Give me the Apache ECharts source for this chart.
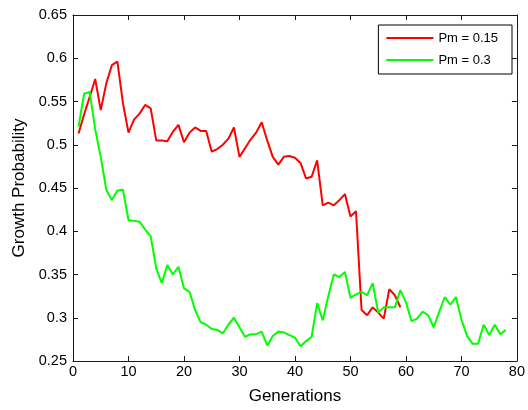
<!DOCTYPE html>
<html>
<head>
<meta charset="utf-8">
<script src="https://cdn.jsdelivr.net/npm/echarts@6/dist/echarts.min.js"></script>
<style>
  html, body { margin: 0; padding: 0; background: #fff; }
  #chart { width: 528px; height: 410px; }
</style>
</head>
<body>
<div id="chart"></div>
<script>
// values, one per generation starting at 1
const redLabel = 'Pm = 0.15';
const greenLabel = 'Pm = 0.3';
const redValues = [
  0.513, 0.535, 0.555, 0.576, 0.540, 0.571, 0.592, 0.596, 0.548, 0.514,
  0.529, 0.536, 0.546, 0.542, 0.505, 0.505, 0.504, 0.515, 0.523, 0.503,
  0.514, 0.520, 0.516, 0.516, 0.492, 0.495, 0.500, 0.507, 0.520, 0.486,
  0.496, 0.506, 0.514, 0.526, 0.505, 0.486, 0.477, 0.486, 0.487, 0.485,
  0.479, 0.461, 0.463, 0.482, 0.430, 0.433, 0.430, 0.436, 0.443, 0.417,
  0.423, 0.309, 0.303, 0.312, 0.306, 0.299, 0.333, 0.326, 0.312
];
const greenValues = [
  0.521, 0.559, 0.561, 0.518, 0.486, 0.448, 0.436, 0.447, 0.448, 0.413,
  0.412, 0.411, 0.402, 0.394, 0.357, 0.340, 0.361, 0.350, 0.359, 0.334,
  0.330, 0.309, 0.295, 0.292, 0.287, 0.286, 0.282, 0.292, 0.300, 0.289,
  0.278, 0.281, 0.281, 0.284, 0.268, 0.279, 0.284, 0.283, 0.280, 0.277,
  0.267, 0.273, 0.278, 0.317, 0.297, 0.325, 0.350, 0.347, 0.353, 0.323,
  0.327, 0.330, 0.326, 0.340, 0.306, 0.312, 0.312, 0.312, 0.332, 0.318,
  0.296, 0.299, 0.307, 0.303, 0.289, 0.307, 0.324, 0.315, 0.324, 0.298,
  0.279, 0.270, 0.270, 0.292, 0.280, 0.292, 0.281, 0.286
];
const xTicks = [0, 10, 20, 30, 40, 50, 60, 70, 80];
const yTicks = [0.25, 0.3, 0.35, 0.4, 0.45, 0.5, 0.55, 0.6, 0.65];

const toPairs = arr => arr.map((v, i) => [i + 1, v]);

const chart = echarts.init(document.getElementById('chart'));

const fontFamily = 'Liberation Sans, Arial, sans-serif';
const axisColor = '#1a1a1a';

const baseX = {
  type: 'value',
  min: xTicks[0],
  max: xTicks[xTicks.length - 1],
  interval: 10,
  axisLine: { show: true, onZero: false, lineStyle: { color: axisColor, width: 1 } },
  axisTick: { show: true, inside: true, length: 5, lineStyle: { color: axisColor } },
  splitLine: { show: false }
};
const baseY = {
  type: 'value',
  min: yTicks[0],
  max: yTicks[yTicks.length - 1],
  interval: 0.05,
  axisLine: { show: true, onZero: false, lineStyle: { color: axisColor, width: 1 } },
  axisTick: { show: true, inside: true, length: 5, lineStyle: { color: axisColor } },
  splitLine: { show: false }
};

const option = {
  backgroundColor: '#fff',
  animation: false,
  grid: { left: 73, right: 8, top: 15, bottom: 43 },
  legend: {
    orient: 'vertical',
    right: 16,
    top: 25,
    icon: 'rect',
    itemWidth: 47,
    itemHeight: 2,
    itemGap: 6,
    padding: [5, 14, 6, 8],
    backgroundColor: '#fff',
    borderColor: '#000',
    borderWidth: 1,
    textStyle: { fontFamily: fontFamily, fontSize: 13, color: '#000', lineHeight: 16 },
    data: [redLabel, greenLabel]
  },
  xAxis: [
    Object.assign({}, baseX, {
      position: 'bottom',
      name: 'Generations',
      nameLocation: 'middle',
      nameGap: 27,
      nameTextStyle: { fontFamily: fontFamily, fontSize: 17, color: '#000' },
      axisLabel: { show: true, margin: 3, fontFamily: fontFamily, fontSize: 14.5, color: '#000' }
    }),
    Object.assign({}, baseX, { position: 'top', axisLabel: { show: false } })
  ],
  yAxis: [
    Object.assign({}, baseY, {
      position: 'left',
      name: 'Growth Probability',
      nameLocation: 'middle',
      nameGap: 43,
      nameTextStyle: { fontFamily: fontFamily, fontSize: 17, color: '#000' },
      axisLabel: {
        show: true, margin: 6, fontFamily: fontFamily, fontSize: 14.5, color: '#000',
        formatter: v => String(+v.toFixed(2))
      }
    }),
    Object.assign({}, baseY, { position: 'right', axisLabel: { show: false } })
  ],
  series: [
    {
      name: redLabel,
      type: 'line',
      symbol: 'none',
      color: '#ff0000',
      lineStyle: { width: 2, color: '#ff0000' },
      data: toPairs(redValues),
      z: 2
    },
    {
      name: greenLabel,
      type: 'line',
      symbol: 'none',
      color: '#00ff00',
      lineStyle: { width: 2, color: '#00ff00' },
      data: toPairs(greenValues),
      z: 3
    }
  ]
};

chart.setOption(option);
</script>
</body>
</html>
